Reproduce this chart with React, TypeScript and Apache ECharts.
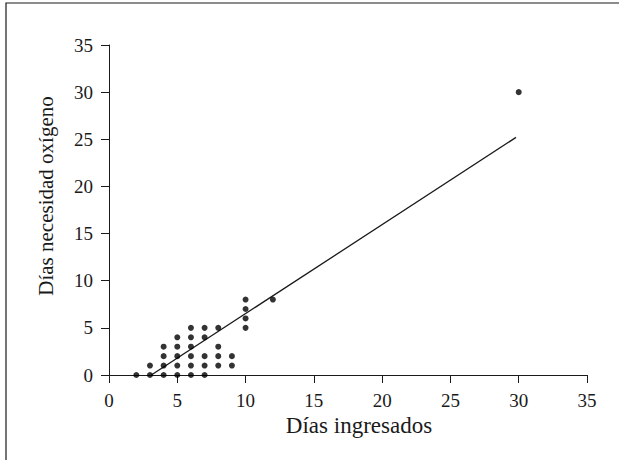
import React, { useEffect, useRef } from "react";
import * as echarts from "echarts";

// Scatter points: x = días ingresados, y = días necesidad oxígeno
const pointX = [2, 3, 3, 4, 4, 4, 4, 5, 5, 5, 5, 5, 6, 6, 6, 6, 6, 6, 7, 7, 7, 7, 7, 8, 8, 8, 8, 9, 9, 10, 10, 10, 10, 12, 30];
const pointY = [0, 0, 1, 0, 1, 2, 3, 0, 1, 2, 3, 4, 0, 1, 2, 3, 4, 5, 0, 1, 2, 4, 5, 1, 2, 3, 5, 1, 2, 5, 6, 7, 8, 8, 30];

// Regression line endpoints
const lineX = [3.1, 29.8];
const lineY = [0, 25.2];

const xTicks = [0, 5, 10, 15, 20, 25, 30, 35];
const yTicks = [0, 5, 10, 15, 20, 25, 30, 35];

const xTitle = "Días ingresados";
const yTitle = "Días necesidad oxígeno";

const FONT = "'Liberation Serif', 'Times New Roman', serif";
const INK = "#1a1a1a";

export default function App() {
  const ref = useRef<HTMLDivElement>(null);
  useEffect(() => {
    document.body.style.margin = "0";
    if (!ref.current) return;
    const chart = echarts.init(ref.current, undefined, { renderer: "svg" });
    const axisCommon = {
      type: "value" as const,
      interval: 5,
      splitLine: { show: false },
      axisLine: { show: true, onZero: false, lineStyle: { color: INK, width: 1 } },
      axisTick: { show: true, inside: false, length: 8, lineStyle: { color: INK, width: 1 } },
    };
    chart.setOption({
      animation: false,
      backgroundColor: "#ffffff",
      grid: { left: 109, right: 32, top: 45, bottom: 85, containLabel: false },
      graphic: [
        {
          type: "rect",
          shape: { x: 6, y: 3, width: 700, height: 600 },
          style: { fill: "none", stroke: INK, lineWidth: 1.2 },
          silent: true,
          z: -1,
        },
        {
          type: "text",
          x: 359,
          y: 425,
          style: {
            text: xTitle,
            fontFamily: FONT,
            fontSize: 23,
            fill: INK,
            align: "center",
            verticalAlign: "middle",
          },
        },
        {
          type: "text",
          x: 46,
          y: 196,
          rotation: Math.PI / 2,
          style: {
            text: yTitle,
            fontFamily: FONT,
            fontSize: 21,
            fill: INK,
            align: "center",
            verticalAlign: "middle",
          },
        },
      ],
      xAxis: {
        ...axisCommon,
        min: xTicks[0],
        max: xTicks[xTicks.length - 1],
        axisLabel: { fontFamily: FONT, fontSize: 19, color: INK, margin: 16 },
      },
      yAxis: {
        ...axisCommon,
        min: yTicks[0],
        max: yTicks[yTicks.length - 1],
        axisLabel: { fontFamily: FONT, fontSize: 19, color: INK, margin: 16 },
      },
      series: [
        {
          type: "line",
          data: lineX.map((x, i) => [x, lineY[i]]),
          symbol: "none",
          lineStyle: { color: INK, width: 1.3 },
          z: 1,
        },
        {
          type: "scatter",
          data: pointX.map((x, i) => [x, pointY[i]]),
          symbol: "circle",
          symbolSize: 6,
          itemStyle: { color: "#000000" },
          z: 2,
        },
      ],
    });
    return () => chart.dispose();
  }, []);
  return <div ref={ref} style={{ width: 619, height: 460 }} />;
}
